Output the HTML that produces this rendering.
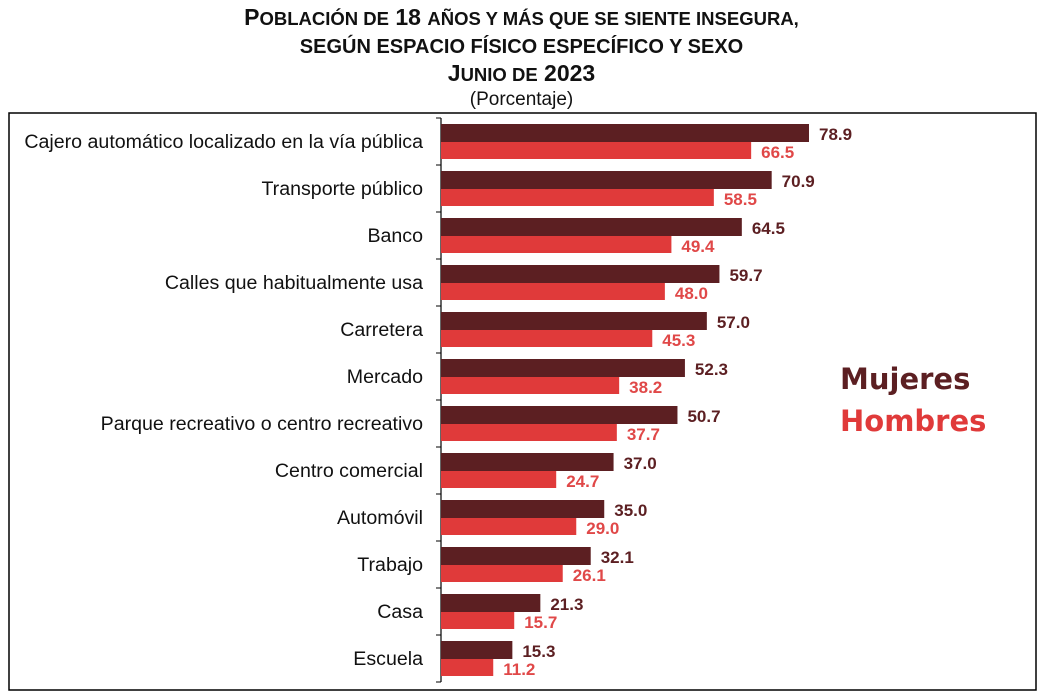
<!DOCTYPE html>
<html><head><meta charset="utf-8"><style>
body{margin:0;background:#fff;width:1043px;height:696px;overflow:hidden;font-family:"Liberation Sans",sans-serif}
.t{position:absolute;left:0;width:1043px;text-align:center;font-weight:bold;color:#111;line-height:1}
</style></head><body>
<div class="t" style="top:6px;font-size:23px">P<span style="font-size:18.5px">OBLACIÓN DE</span> 18 <span style="font-size:18.5px">AÑOS Y MÁS QUE SE SIENTE INSEGURA,</span></div>
<div class="t" style="top:37px;font-size:20px">SEGÚN ESPACIO FÍSICO ESPECÍFICO Y SEXO</div>
<div class="t" style="top:62px;font-size:23px">J<span style="font-size:18.5px">UNIO DE</span> 2023</div>
<div class="t" style="top:90px;font-size:19px;font-weight:normal">(Porcentaje)</div>
<svg id="c" width="1043" height="696" style="position:absolute;left:0;top:0">
<rect x="9" y="113" width="1027" height="577" fill="none" stroke="#000" stroke-width="1.5"/>
<text x="840" y="389" font-size="29" font-weight="bold" fill="#5c1f22" font-family="DejaVu Sans, sans-serif">Mujeres</text>
<text x="840" y="431" font-size="29" font-weight="bold" fill="#e03a3a" font-family="DejaVu Sans, sans-serif">Hombres</text>
</svg>
<script>
const categories=["Cajero automático localizado en la vía pública","Transporte público","Banco","Calles que habitualmente usa","Carretera","Mercado","Parque recreativo o centro recreativo","Centro comercial","Automóvil","Trabajo","Casa","Escuela"];
const mujeres=[78.9,70.9,64.5,59.7,57.0,52.3,50.7,37.0,35.0,32.1,21.3,15.3];
const hombres=[66.5,58.5,49.4,48.0,45.3,38.2,37.7,24.7,29.0,26.1,15.7,11.2];
const svg=document.getElementById('c');const NS='http://www.w3.org/2000/svg';
const x0=441,k=4.664,top0=118,band=47;
const xs=v=>x0+v*k;const yb=i=>top0+i*band;
function mk(t,a){const e=document.createElementNS(NS,t);for(const n in a)e.setAttribute(n,a[n]);svg.appendChild(e);return e;}
const ax=mk('line',{x1:x0,y1:top0,x2:x0,y2:top0+band*categories.length,stroke:'#000','stroke-width':1.2});


for(let i=0;i<=categories.length;i++){const tk=mk('line',{x1:x0-5,x2:x0,y1:yb(i),y2:yb(i),stroke:'#000'});

}
categories.forEach((c,i)=>{
const y=yb(i);
const l=mk('text',{x:423,y:y+30,'text-anchor':'end','font-size':19.6,fill:'#111','font-family':'Liberation Sans, sans-serif'});l.textContent=c;


const b1=mk('rect',{x:x0,y:y+6,width:xs(mujeres[i])-x0,height:18,fill:'#5c1f22'});


const b2=mk('rect',{x:x0,y:y+24,width:xs(hombres[i])-x0,height:17,fill:'#e03a3a'});


const v1=mk('text',{x:xs(mujeres[i])+10,y:y+22,'font-size':17,'font-weight':'bold',fill:'#5c1f22','font-family':'Liberation Sans, sans-serif'});v1.textContent=mujeres[i].toFixed(1);


const v2=mk('text',{x:xs(hombres[i])+10,y:y+40,'font-size':17,'font-weight':'bold',fill:'#e04848','font-family':'Liberation Sans, sans-serif'});v2.textContent=hombres[i].toFixed(1);


});
</script>
</body></html>
